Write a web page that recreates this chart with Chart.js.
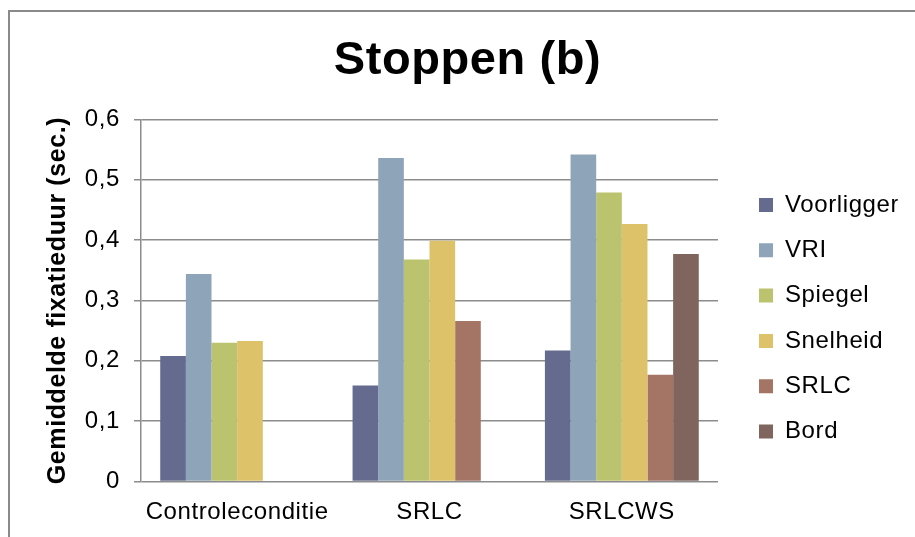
<!DOCTYPE html>
<html>
<head>
<meta charset="utf-8">
<script src="https://cdn.jsdelivr.net/npm/chart.js@4"></script>
<style>
  html, body { margin: 0; padding: 0; background: #fff; overflow: hidden; }
  #frame {
    position: absolute; left: 8px; top: 10px; width: 1000px; height: 1000px;
    border-left: 2px solid #8a8a8a; border-top: 2px solid #8a8a8a;
  }
  #chart-canvas { position: absolute; left: 0; top: 0; }
</style>
</head>
<body>
<div id="frame"></div>
<canvas id="chart-canvas" width="915" height="537"></canvas>
<script>
const categories = ['Controleconditie', 'SRLC', 'SRLCWS'];

const voorligger = [0.208, 0.159, 0.217];
const vri = [0.344, 0.536, 0.542];
const spiegel = [0.230, 0.368, 0.479];
const snelheid = [0.233, 0.399, 0.427];
const srlc = [null, 0.266, 0.177];
const bord = [null, null, 0.377];

const yTickLabels = ['0', '0,1', '0,2', '0,3', '0,4', '0,5', '0,6'];

const FONT = "'Liberation Sans', Arial, sans-serif";
const GRID = '#8c8c8c';

// Excel-style text runs a bit wider than plain Arial
const spacing = {
  id: 'spacing',
  beforeUpdate(chart) { chart.ctx.letterSpacing = '0.6px'; },
  beforeDraw(chart) { chart.ctx.letterSpacing = '0.6px'; },
};

function createChart() {
  const canvas = document.getElementById('chart-canvas');

  const ds = (label, data, color) => ({
    label,
    data,
    backgroundColor: color,
    borderWidth: 0,
    yAxisID: 'y',
    categoryPercentage: 0.8,
    barPercentage: 1.0,
  });

  const chart = new Chart(canvas, {
    type: 'bar',
    data: {
      labels: categories,
      datasets: [
        ds('Voorligger', voorligger, '#646b8f'),
        ds('VRI', vri, '#8ea5b9'),
        ds('Spiegel', spiegel, '#bbc36e'),
        ds('Snelheid', snelheid, '#ddc26a'),
        ds('SRLC', srlc, '#a47464'),
        ds('Bord', bord, '#7f655e'),
      ],
    },
    options: {
      responsive: false,
      animation: false,
      layout: { padding: { left: 37.3, right: 17.3, top: 10, bottom: 0 } },
      plugins: {
        tooltip: { enabled: false },
        title: {
          display: true,
          text: 'Stoppen (b)',
          color: '#000',
          font: { family: FONT, size: 47, weight: 'bold' },
          padding: { top: 23.2, bottom: 29.9 },
        },
        legend: {
          position: 'right',
          align: 'start',
          fullSize: false,
          maxWidth: 160,
          title: { display: true, text: '', font: { size: 12 }, padding: { top: 18.9, bottom: 18.9 } },
          labels: {
            color: '#000',
            font: { family: FONT, size: 24 },
            boxWidth: 14,
            boxHeight: 14,
            padding: 21.3,
          },
        },
      },
      scales: {
        x: {
          grid: { display: false, drawTicks: false },
          border: { display: false },
          ticks: { color: '#000', font: { family: FONT, size: 24 }, padding: 16.5, maxRotation: 0 },
          afterFit: (s) => { s.height = 55.5; },
        },
        y: {
          min: 0,
          max: 0.6,
          ticks: {
            stepSize: 0.1,
            color: '#000',
            font: { family: FONT, size: 24 },
            padding: 14.1,
            callback: (v, i) => yTickLabels[i],
          },
          grid: { color: GRID, lineWidth: 1.5, tickLength: 7 },
          border: { display: true, color: GRID, width: 1.5 },
          title: {
            display: true,
            text: 'Gemiddelde fixatieduur (sec.)',
            color: '#000',
            font: { family: FONT, size: 25, weight: 'bold' },
            padding: { top: 5.5, bottom: 0 },
          },
          afterFit: (s) => { s.width = 103.7; },
        },
        gap: {
          type: 'linear',
          position: 'right',
          display: true,
          grid: { display: false, drawTicks: false },
          border: { display: false },
          ticks: { display: false },
          afterFit: (s) => { s.width = 19.7; },
        },
      },
    },
    plugins: [spacing],
  });

  console.log(chart.chartArea, chart.legend.left, chart.legend.width);
}

document.addEventListener('DOMContentLoaded', createChart);
</script>
</body>
</html>
